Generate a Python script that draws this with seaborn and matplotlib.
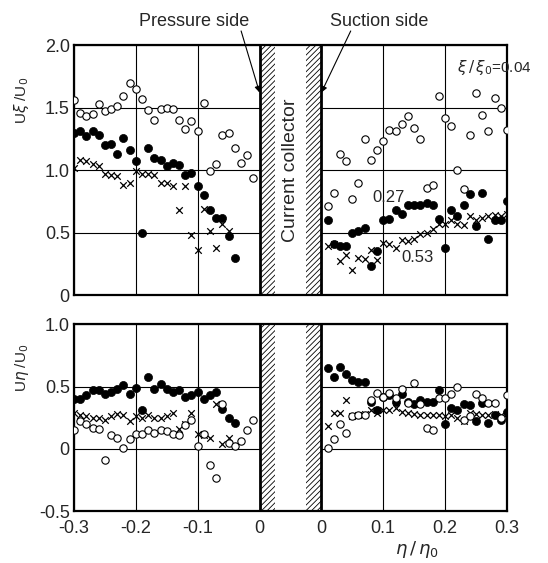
import numpy as np
import matplotlib
matplotlib.use('Agg')
import matplotlib.pyplot as plt
import seaborn as sns

sns.set_style('white')
plt.rcParams['font.family'] = ['Liberation Sans', 'DejaVu Sans']
plt.rcParams['mathtext.fontset'] = 'dejavusans'
plt.rcParams['hatch.linewidth'] = 0.6

# measurement stations (eta / eta0)
eta_ps_30 = [-0.30, -0.29, -0.28, -0.27, -0.26, -0.25, -0.24, -0.23, -0.22, -0.21,
             -0.20, -0.19, -0.18, -0.17, -0.16, -0.15, -0.14, -0.13, -0.12, -0.11,
             -0.10, -0.09, -0.08, -0.07, -0.06, -0.05, -0.04, -0.03, -0.02, -0.01]
eta_ps_27 = eta_ps_30[:27]
eta_ps_26 = eta_ps_30[:26]
eta_ss = [0.01, 0.02, 0.03, 0.04, 0.05, 0.06, 0.07, 0.08, 0.09, 0.10,
          0.11, 0.12, 0.13, 0.14, 0.15, 0.16, 0.17, 0.18, 0.19, 0.20,
          0.21, 0.22, 0.23, 0.24, 0.25, 0.26, 0.27, 0.28, 0.29, 0.30]

# U_xi / U0  (o: xi/xi0=0.04, filled: 0.27, x: 0.53)
uxi_04_ps = [1.56, 1.46, 1.43, 1.45, 1.53, 1.47, 1.49, 1.51, 1.59, 1.70,
             1.65, 1.57, 1.48, 1.40, 1.49, 1.50, 1.49, 1.40, 1.33, 1.39,
             1.31, 1.54, 0.99, 1.05, 1.28, 1.30, 1.18, 1.06, 1.12, 0.94]
uxi_27_ps = [1.30, 1.31, 1.27, 1.31, 1.28, 1.20, 1.21, 1.13, 1.26, 1.16,
             1.07, 0.50, 1.18, 1.10, 1.08, 1.03, 1.06, 1.04, 0.96, 0.98,
             0.87, 0.80, 0.68, 0.62, 0.62, 0.47, 0.30]
uxi_53_ps = [1.02, 1.08, 1.07, 1.05, 1.03, 0.97, 0.96, 0.95, 0.88, 0.90,
             0.99, 0.97, 0.97, 0.96, 0.90, 0.90, 0.87, 0.68, 0.87, 0.48,
             0.36, 0.69, 0.51, 0.38, 0.57, 0.51]
uxi_04_ss = [0.71, 0.82, 1.13, 1.07, 0.77, 0.90, 1.25, 1.08, 1.16, 1.23,
             1.32, 1.31, 1.37, 1.43, 1.34, 1.25, 0.86, 0.88, 1.59, 1.42,
             1.35, 1.00, 0.85, 1.28, 1.62, 1.44, 1.31, 1.58, 1.50, 1.32]
uxi_27_ss = [0.60, 0.41, 0.39, 0.39, 0.50, 0.51, 0.54, 0.23, 0.35, 0.60,
             0.61, 0.68, 0.65, 0.72, 0.72, 0.72, 0.74, 0.72, 0.61, 0.38,
             0.68, 0.63, 0.72, 0.81, 0.55, 0.82, 0.45, 0.60, 0.60, 0.75]
uxi_53_ss = [0.39, 0.41, 0.27, 0.32, 0.20, 0.30, 0.29, 0.36, 0.28, 0.42,
             0.41, 0.38, 0.44, 0.43, 0.45, 0.49, 0.50, 0.53, 0.57, 0.57,
             0.60, 0.57, 0.56, 0.63, 0.60, 0.62, 0.63, 0.64, 0.63, 0.65]

# U_eta / U0
ueta_04_ps = [0.15, 0.22, 0.20, 0.17, 0.16, -0.09, 0.11, 0.09, 0.01, 0.08,
              0.12, 0.12, 0.15, 0.13, 0.15, 0.14, 0.12, 0.11, 0.19, 0.23,
              0.02, 0.12, -0.13, -0.23, 0.36, 0.05, 0.02, 0.06, 0.15, 0.23]
ueta_27_ps = [0.40, 0.40, 0.43, 0.47, 0.47, 0.44, 0.46, 0.48, 0.51, 0.44,
              0.49, 0.31, 0.58, 0.48, 0.52, 0.48, 0.46, 0.47, 0.42, 0.43,
              0.46, 0.40, 0.43, 0.46, 0.32, 0.25, 0.21]
ueta_53_ps = [0.29, 0.27, 0.26, 0.25, 0.25, 0.23, 0.26, 0.28, 0.27, 0.22,
              0.26, 0.25, 0.27, 0.25, 0.25, 0.26, 0.29, 0.16, 0.20, 0.29,
              0.12, 0.11, 0.09, 0.36, 0.04, 0.09]
ueta_04_ss = [0.01, 0.08, 0.20, 0.13, 0.26, 0.27, 0.27, 0.39, 0.45, 0.42,
              0.45, 0.41, 0.48, 0.37, 0.53, 0.36, 0.17, 0.15, 0.41, 0.41,
              0.44, 0.50, 0.23, 0.26, 0.44, 0.41, 0.37, 0.37, 0.25, 0.43]
ueta_27_ss = [0.65, 0.58, 0.66, 0.60, 0.55, 0.54, 0.54, 0.38, 0.31, 0.42,
              0.43, 0.38, 0.44, 0.38, 0.36, 0.39, 0.38, 0.38, 0.47, 0.20,
              0.33, 0.31, 0.36, 0.35, 0.22, 0.37, 0.21, 0.27, 0.23, 0.30]
ueta_53_ss = [0.18, 0.29, 0.29, 0.39, 0.26, 0.27, 0.28, 0.31, 0.29, 0.31,
              0.31, 0.33, 0.30, 0.29, 0.28, 0.27, 0.27, 0.27, 0.27, 0.26,
              0.27, 0.25, 0.22, 0.29, 0.28, 0.27, 0.27, 0.28, 0.27, 0.28]

xtick_labels = ['-0.3', '-0.2', '-0.1', '0', '0', '0.1', '0.2', '0.3']

GAP = 0.1      # current collector drawn as a 0.1-wide strip on the x scale
HATCH_W = 0.025
FS = 13


def draw_points(ax, eta, vals, kind, shift=0.0):
    x = np.asarray(eta) + shift
    if kind == 'open':
        sns.scatterplot(x=x, y=vals, ax=ax, marker='o', s=28, facecolor='white',
                        edgecolor='black', linewidth=0.8, zorder=6)
    elif kind == 'filled':
        sns.scatterplot(x=x, y=vals, ax=ax, marker='o', s=34, color='black',
                        edgecolor='black', linewidth=0.5, zorder=5)
    else:
        sns.scatterplot(x=x, y=vals, ax=ax, marker='x', s=22, color='black',
                        linewidth=0.9, zorder=4)


def style_axes(ax, ylim, yticks, ylabels):
    ax.set_xlim(-0.3, 0.3 + GAP)
    ax.set_ylim(*ylim)
    ax.set_xticks([-0.3, -0.2, -0.1, 0, 0.1, 0.2, 0.3, 0.4])
    ax.set_yticks(yticks)
    ax.set_yticklabels(ylabels, fontsize=FS)
    ax.grid(True, color='black', linewidth=0.8)
    ax.tick_params(axis='y', length=0, pad=3)
    ax.tick_params(axis='x', length=0, pad=6)
    for sp in ax.spines.values():
        sp.set_linewidth(1.6)
        sp.set_color('black')
    # current collector strip
    ax.axvspan(0, GAP, facecolor='white', edgecolor='none', zorder=2)
    ax.axvspan(0, HATCH_W, facecolor='none', edgecolor='black', hatch='//////',
               linewidth=0, zorder=3)
    ax.axvspan(GAP - HATCH_W, GAP, facecolor='none', edgecolor='black', hatch='//////',
               linewidth=0, zorder=3)
    ax.axvline(0, color='black', linewidth=2.0, zorder=3)
    ax.axvline(GAP, color='black', linewidth=2.0, zorder=3)
    ax.set_xlabel('')
    ax.set_ylabel('')


fig = plt.figure(figsize=(5.48, 5.63), dpi=100)
ax1 = fig.add_axes([0.135, 0.476, 0.790, 0.444])
ax2 = fig.add_axes([0.135, 0.092, 0.790, 0.332])

# top panel
draw_points(ax1, eta_ps_26, uxi_53_ps, 'cross')
draw_points(ax1, eta_ss, uxi_53_ss, 'cross', GAP)
draw_points(ax1, eta_ps_27, uxi_27_ps, 'filled')
draw_points(ax1, eta_ss, uxi_27_ss, 'filled', GAP)
draw_points(ax1, eta_ps_30, uxi_04_ps, 'open')
draw_points(ax1, eta_ss, uxi_04_ss, 'open', GAP)
style_axes(ax1, (0, 2.0), [0, 0.5, 1.0, 1.5, 2.0], ['0', '0.5', '1.0', '1.5', '2.0'])
ax1.set_xticklabels([])

# bottom panel
draw_points(ax2, eta_ps_26, ueta_53_ps, 'cross')
draw_points(ax2, eta_ss, ueta_53_ss, 'cross', GAP)
draw_points(ax2, eta_ps_27, ueta_27_ps, 'filled')
draw_points(ax2, eta_ss, ueta_27_ss, 'filled', GAP)
draw_points(ax2, eta_ps_30, ueta_04_ps, 'open')
draw_points(ax2, eta_ss, ueta_04_ss, 'open', GAP)
style_axes(ax2, (-0.5, 1.0), [-0.5, 0, 0.5, 1.0], ['-0.5', '0', '0.5', '1.0'])
ax2.set_xticklabels(xtick_labels, fontsize=FS)

# annotations
ax1.text(GAP / 2, 1.0, 'Current collector', rotation=90, ha='center', va='center',
         fontsize=FS + 1, zorder=7)
ax1.text(0.32, 1.82, r'$\xi\,/\,\xi_0$=0.04', ha='left', va='center', fontsize=11,
         clip_on=False, zorder=7)
ax1.text(0.208, 0.78, '0.27', ha='center', va='center', fontsize=12, zorder=7)
ax1.text(0.255, 0.30, '0.53', ha='center', va='center', fontsize=12, zorder=7)

arrow = dict(arrowstyle='-|>', color='black', lw=0.8, mutation_scale=9, shrinkA=0, shrinkB=0)
ax1.annotate('Pressure side', xy=(0, 1.62), xycoords='data',
             xytext=(0.354, 0.962), textcoords='figure fraction',
             ha='center', va='center', fontsize=FS, arrowprops=None)
ax1.annotate('', xy=(0, 1.62), xycoords='data',
             xytext=(0.440, 0.945), textcoords='figure fraction', arrowprops=arrow)
ax1.annotate('Suction side', xy=(GAP, 1.62), xycoords='data',
             xytext=(0.692, 0.962), textcoords='figure fraction',
             ha='center', va='center', fontsize=FS, arrowprops=None)
ax1.annotate('', xy=(GAP, 1.62), xycoords='data',
             xytext=(0.640, 0.945), textcoords='figure fraction', arrowprops=arrow)

fig.text(0.04, 0.822, r'U$\xi$ /U$_0$', rotation=90, ha='center', va='center', fontsize=11)
fig.text(0.04, 0.346, r'U$\eta$ /U$_0$', rotation=90, ha='center', va='center', fontsize=11)
fig.text(0.76, 0.024, r'$\eta\,/\,\eta_0$', ha='center', va='center', fontsize=13)

fig.savefig('out.png', dpi=100)
